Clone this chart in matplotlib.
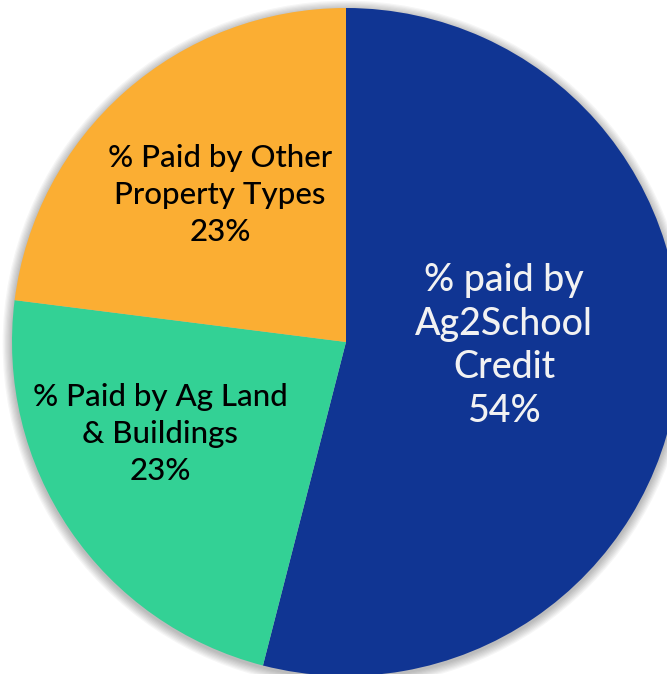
import matplotlib
matplotlib.use("Agg")
import matplotlib.pyplot as plt
from matplotlib.patches import Circle

# Data
categories = ["% paid by\nAg2School\nCredit", "% Paid by Ag Land\n& Buildings", "% Paid by Other\nProperty Types"]
values = [54, 23, 23]
colors = ["#103593", "#33D195", "#FBAE33"]
text_colors = ["#F2F2F2", "#000000", "#000000"]

W, H = 667, 674
fig = plt.figure(figsize=(W / 100, H / 100), dpi=100)
ax = fig.add_axes([0, 0, 1, 1])

cx, cy, r = 346, H - 342, 334

# soft shadow
for i in range(8):
    ax.add_patch(Circle((cx, cy - 2), r + 1 + i * 1.2, color="black", alpha=0.035, lw=0, zorder=0))

wedges, _ = ax.pie(values, colors=colors, startangle=90, counterclock=False,
                   center=(cx, cy), radius=r, frame=True,
                   wedgeprops=dict(linewidth=0))
ax.set_xlim(0, W)
ax.set_ylim(0, H)
ax.set_aspect("equal")
ax.axis("off")

# label positions (pixel, y from top) and sizes
label_pos = [(504, 346), (160, 434), (220, 195)]
label_size = [27, 22.5, 22.5]
label_spacing = [1.3, 1.38, 1.38]
for cat, v, (lx, ly), fs, tc, ls in zip(categories, values, label_pos, label_size, text_colors, label_spacing):
    ax.text(lx, H - ly, f"{cat}\n{v}%", ha="center", va="center", fontsize=fs,
            color=tc, family="Lato", weight="medium", linespacing=ls, zorder=5)

fig.savefig("out.png", dpi=100)
